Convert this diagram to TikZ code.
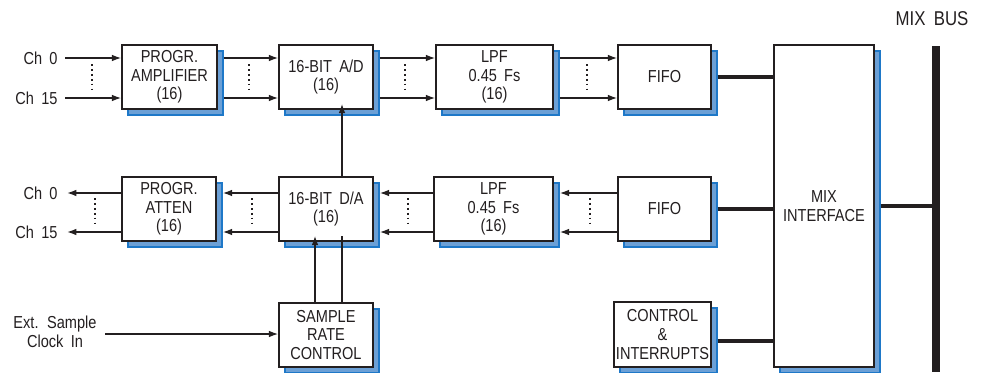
\documentclass[tikz,border=0pt]{standalone}
\usepackage{fontspec}
\setmainfont{Liberation Sans}[FakeStretch=0.84,WordSpace=1.8]
\usetikzlibrary{arrows.meta,shadows}
\definecolor{inkgray}{RGB}{35,31,32}
\definecolor{shadowblue}{RGB}{108,160,214}
\definecolor{edgeblue}{RGB}{30,120,200}

\tikzset{every picture/.style={line width=0.75pt}}
\tikzset{
  blockbox/.style={draw=inkgray, fill=white, line width=1.1pt, text=inkgray, align=center, inner sep=0pt,
    font=\fontsize{13}{14}\selectfont,
    general shadow={shadow xshift=4.5pt, shadow yshift=-4.5pt, fill=shadowblue, draw=edgeblue, line width=0.9pt}},
  sigarrow/.style={draw=inkgray, line width=1.1pt, -{Latex[length=7pt,width=5pt]}},
  sigline/.style={draw=inkgray, line width=1.1pt},
  busline/.style={draw=inkgray, line width=3pt},
  chdots/.style={draw=inkgray, line width=1.6pt, dash pattern=on 1.3pt off 2.4pt},
  chlabel/.style={text=inkgray, inner sep=0pt, align=center, font=\fontsize{13}{14}\selectfont},
}

\begin{document}
\begin{tikzpicture}[x=0.75pt,y=0.75pt,yscale=-1,xscale=1]
\useasboundingbox (0,0) rectangle (982,372);

%Blocks: input path
\node[blockbox, minimum width=71.25pt, minimum height=48pt] (amp) at (169.5,77) {PROGR.\\AMPLIFIER\\(16)};
\node[blockbox, minimum width=70.5pt, minimum height=48pt] (adc) at (326,77) {16-BIT A/D\\(16)};
\node[blockbox, minimum width=87.75pt, minimum height=48pt] (lpfa) at (494.5,77) {LPF\\0.45 Fs\\(16)};
\node[blockbox, minimum width=69.75pt, minimum height=48pt] (fifoa) at (664.5,77) {FIFO};

%Blocks: output path
\node[blockbox, minimum width=70.5pt, minimum height=48pt] (atten) at (169,209) {PROGR.\\ATTEN\\(16)};
\node[blockbox, minimum width=70.5pt, minimum height=48pt] (dac) at (326,209) {16-BIT D/A\\(16)};
\node[blockbox, minimum width=89.25pt, minimum height=48pt] (lpfb) at (493.5,209) {LPF\\0.45 Fs\\(16)};
\node[blockbox, minimum width=69.75pt, minimum height=48pt] (fifob) at (664.5,209) {FIFO};

%Blocks: control and mixing
\node[blockbox, minimum width=70.5pt, minimum height=48pt] (src) at (326,335) {SAMPLE\\RATE\\CONTROL};
\node[blockbox, minimum width=72.75pt, minimum height=48.75pt] (ctrl) at (662.5,334.5) {CONTROL\\\&\\INTERRUPTS};
\node[blockbox, minimum width=75pt, minimum height=241.5pt] (mix) at (824,206) {MIX\\INTERFACE};

% Text Node
\node[chlabel, anchor=east] (lblin0) at (58,58) {Ch 0};
\node[chlabel, anchor=east] (lblin15) at (58,98) {Ch 15};
\node[chlabel, anchor=east] (lblout0) at (58,193) {Ch 0};
\node[chlabel, anchor=east] (lblout15) at (58,232) {Ch 15};
\node[chlabel] (lblclk) at (55,332) {Ext. Sample\\Clock In};
\node[chlabel, font=\fontsize{15}{16}\selectfont] (lblbus) at (932,19) {MIX BUS};

\coordinate (in0) at (65,58);
\coordinate (in15) at (65,98);
\coordinate (out0) at (67,193);
\coordinate (out15) at (67,232);
\coordinate (clk) at (105,334);
\coordinate (bustop) at (936,46);
\coordinate (busbot) at (936,372);
\path ([shift={(6,6)}]ctrl.east) coordinate (ctrlout);

%Input channels
\draw[sigarrow] (in0) -- (in0 -| amp.west);
\draw[sigarrow] (in15) -- (in15 -| amp.west);
\draw[sigarrow] ([xshift=4.5pt]amp.east |- in0) -- (adc.west |- in0);
\draw[sigarrow] ([xshift=4.5pt]amp.east |- in15) -- (adc.west |- in15);
\draw[sigarrow] ([xshift=4.5pt]adc.east |- in0) -- (lpfa.west |- in0);
\draw[sigarrow] ([xshift=4.5pt]adc.east |- in15) -- (lpfa.west |- in15);
\draw[sigarrow] ([xshift=4.5pt]lpfa.east |- in0) -- (fifoa.west |- in0);
\draw[sigarrow] ([xshift=4.5pt]lpfa.east |- in15) -- (fifoa.west |- in15);

%Output channels
\draw[sigarrow] (fifob.west |- out0) -- ([xshift=4.5pt]lpfb.east |- out0);
\draw[sigarrow] (fifob.west |- out15) -- ([xshift=4.5pt]lpfb.east |- out15);
\draw[sigarrow] (lpfb.west |- out0) -- ([xshift=4.5pt]dac.east |- out0);
\draw[sigarrow] (lpfb.west |- out15) -- ([xshift=4.5pt]dac.east |- out15);
\draw[sigarrow] (dac.west |- out0) -- ([xshift=4.5pt]atten.east |- out0);
\draw[sigarrow] (dac.west |- out15) -- ([xshift=4.5pt]atten.east |- out15);
\draw[sigarrow] (atten.west |- out0) -- (out0);
\draw[sigarrow] (atten.west |- out15) -- (out15);

\foreach \x in {92,249,405,587} \draw[chdots] (\x,64) -- (\x,92);
\foreach \x in {95,252,408,590} \draw[chdots] (\x,198) -- (\x,227);

%Clock and loop-back
\draw[sigarrow] ([xshift=12pt]dac.north) -- ([xshift=12pt,yshift=-4.5pt]adc.south);
\draw[sigarrow] ([xshift=-8.25pt]src.north) -- ([xshift=-8.25pt,yshift=-4.5pt]dac.south);
\draw[sigline] ([xshift=12pt]src.north) -- ([xshift=12pt,yshift=-4.5pt]dac.south);
\draw[sigarrow] (clk) -- (clk -| src.west);

%Mix bus
\draw[busline] ([xshift=4.5pt]fifoa.east) -- (fifoa.east -| mix.west);
\draw[busline] ([xshift=4.5pt]fifob.east) -- (fifob.east -| mix.west);
\draw[busline] (ctrlout) -- (ctrlout -| mix.west);
\draw[busline] ([xshift=4.5pt]mix.east) -- (mix.east -| bustop);
\draw[inkgray, line width=6pt] (bustop) -- (busbot);

\end{tikzpicture}
\end{document}
